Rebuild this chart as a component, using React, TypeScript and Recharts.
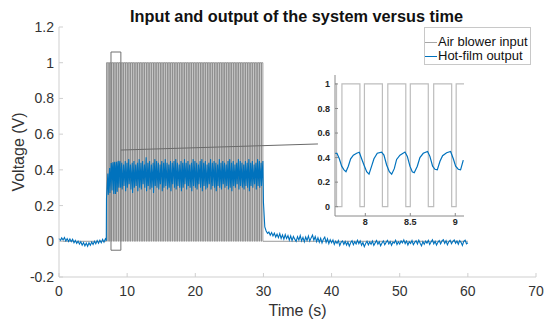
import React from 'react'
import { LineChart, Line, XAxis, YAxis, ReferenceArea, ReferenceLine } from 'recharts'

const FONT = '"Liberation Sans", Arial, Helvetica, sans-serif'
const BLUE = '#0072BD'
const PULSE_GRAY = '#828282'
const AXIS_GRAY = '#cfcfcf'
const TEXT = '#333333'

const xTicks = [0, 10, 20, 30, 40, 50, 60, 70]
const yTicks = [-0.2, 0, 0.2, 0.4, 0.6, 0.8, 1, 1.2]
const zoomXTicks = [8, 8.5, 9]
const zoomYTicks = [0, 0.2, 0.4, 0.6, 0.8, 1]

// air blower input: switch-on / switch-off instants (s)
const pulseRise = [
  6.97, 7.23, 7.48, 7.74, 7.99, 8.25, 8.5, 8.76, 9.01, 9.27,
  9.53, 9.78, 10.04, 10.29, 10.55, 10.8, 11.06, 11.32, 11.57, 11.83,
  12.08, 12.34, 12.59, 12.85, 13.1, 13.36, 13.62, 13.87, 14.13, 14.38,
  14.64, 14.89, 15.15, 15.4, 15.66, 15.92, 16.17, 16.43, 16.68, 16.94,
  17.19, 17.45, 17.71, 17.96, 18.22, 18.47, 18.73, 18.98, 19.24, 19.49,
  19.75, 20.01, 20.26, 20.52, 20.77, 21.03, 21.28, 21.54, 21.79, 22.05,
  22.31, 22.56, 22.82, 23.07, 23.33, 23.58, 23.84, 24.1, 24.35, 24.61,
  24.86, 25.12, 25.37, 25.63, 25.88, 26.14, 26.4, 26.65, 26.91, 27.16,
  27.42, 27.67, 27.93, 28.18, 28.44, 28.7, 28.95, 29.21, 29.46, 29.72,
]
const pulseFall = [
  7.17, 7.43, 7.68, 7.94, 8.19, 8.45, 8.7, 8.96, 9.21, 9.47,
  9.73, 9.98, 10.24, 10.49, 10.75, 11.0, 11.26, 11.52, 11.77, 12.03,
  12.28, 12.54, 12.79, 13.05, 13.3, 13.56, 13.82, 14.07, 14.33, 14.58,
  14.84, 15.09, 15.35, 15.6, 15.86, 16.12, 16.37, 16.63, 16.88, 17.14,
  17.39, 17.65, 17.91, 18.16, 18.42, 18.67, 18.93, 19.18, 19.44, 19.69,
  19.95, 20.21, 20.46, 20.72, 20.97, 21.23, 21.48, 21.74, 21.99, 22.25,
  22.51, 22.76, 23.02, 23.27, 23.53, 23.78, 24.04, 24.3, 24.55, 24.81,
  25.06, 25.32, 25.57, 25.83, 26.08, 26.34, 26.6, 26.85, 27.11, 27.36,
  27.62, 27.87, 28.13, 28.38, 28.64, 28.9, 29.15, 29.41, 29.66, 29.92,
]
const inputEnd = 60

// hot-film output before the blower starts, every 0.2 s from 0 s
const outputBefore = [
  0.016, 0.004, 0.019, 0.007, 0.021, 0.002, 0.015, -0.001, 0.013, -0.002,
  0.011, -0.008, 0.005, -0.011, 0.001, -0.016, -0.003, -0.022, -0.007, -0.026,
  -0.01, -0.028, -0.008, -0.022, -0.004, -0.018, 0.0, -0.014, 0.004, -0.011,
  0.006, -0.008, 0.011, -0.005, 0.014,
]
const onsetTime = 6.94
const onsetValue = 0.003

// lowest value after each switch-on, highest before each switch-off
const cycleTrough = [
  0.24, 0.26, 0.27, 0.285, 0.265, 0.265, 0.277, 0.3, 0.3, 0.29,
  0.31, 0.28, 0.3, 0.32, 0.29, 0.27, 0.3, 0.31, 0.28, 0.3,
  0.29, 0.32, 0.3, 0.28, 0.31, 0.29, 0.3, 0.27, 0.31, 0.3,
  0.29, 0.32, 0.28, 0.3, 0.31, 0.29, 0.3, 0.28, 0.32, 0.3,
  0.29, 0.31, 0.3, 0.28, 0.3, 0.32, 0.29, 0.31, 0.3, 0.28,
  0.31, 0.3, 0.29, 0.32, 0.3, 0.28, 0.31, 0.29, 0.3, 0.32,
  0.29, 0.31, 0.3, 0.28, 0.31, 0.3, 0.29, 0.32, 0.3, 0.31,
  0.29, 0.3, 0.28, 0.31, 0.3, 0.32, 0.29, 0.31, 0.3, 0.29,
  0.31, 0.3, 0.28, 0.31, 0.3, 0.32, 0.29, 0.31, 0.3, 0.31,
]
const cyclePeak = [
  0.38, 0.41, 0.435, 0.443, 0.445, 0.445, 0.45, 0.45, 0.44, 0.43,
  0.45, 0.44, 0.46, 0.43, 0.44, 0.45, 0.43, 0.44, 0.46, 0.44,
  0.45, 0.43, 0.47, 0.44, 0.45, 0.43, 0.44, 0.46, 0.45, 0.44,
  0.43, 0.45, 0.44, 0.46, 0.44, 0.43, 0.45, 0.44, 0.45, 0.46,
  0.44, 0.43, 0.45, 0.44, 0.46, 0.44, 0.45, 0.43, 0.44, 0.46,
  0.45, 0.44, 0.43, 0.45, 0.46, 0.44, 0.45, 0.43, 0.44, 0.46,
  0.44, 0.45, 0.44, 0.43, 0.46, 0.44, 0.45, 0.44, 0.43, 0.45,
  0.46, 0.44, 0.45, 0.43, 0.44, 0.46, 0.45, 0.44, 0.43, 0.45,
  0.44, 0.46, 0.44, 0.45, 0.43, 0.44, 0.46, 0.45, 0.44, 0.45,
]

// hot-film output after the blower stops, every 0.2 s from 30 s
const outputAfter = [
  0.22, 0.08, 0.058, 0.044, 0.052, 0.034, 0.049, 0.03, 0.045, 0.024,
  0.04, 0.02, 0.043, 0.016, 0.036, 0.012, 0.038, 0.015, 0.032, 0.006,
  0.03, 0.004, 0.027, 0.012, -0.001, 0.026, 0.007, 0.032, 0.002, 0.022,
  -0.003, 0.024, 0.004, 0.03, 0.001, 0.019, 0.035, 0.006, 0.026, -0.002,
  0.02, -0.005, 0.017, -0.009, 0.012, 0.024, -0.006, 0.014, -0.013, 0.009,
  -0.008, 0.007, -0.018, 0.0, -0.012, 0.004, -0.024, -0.006, 0.002, -0.017,
  -0.001, -0.021, -0.004, -0.027, -0.008, 0.003, -0.019, -0.002, -0.015, 0.006,
  -0.013, 0.002, -0.022, -0.007, -0.03, -0.012, 0.0, -0.02, -0.004, -0.017,
  0.001, -0.023, -0.009, 0.004, -0.016, -0.003, -0.025, -0.01, 0.002, -0.019,
  -0.006, 0.005, -0.015, -0.001, -0.022, -0.005, -0.011, 0.006, -0.018, -0.003,
  -0.016, 0.002, -0.009, 0.008, -0.013, 0.001, -0.021, -0.003, -0.012, 0.004,
  -0.019, -0.006, 0.003, -0.015, 0.006, -0.011, -0.026, -0.002, -0.016, 0.001,
  -0.01, 0.005, -0.018, -0.004, 0.008, -0.014, 0.0, -0.021, -0.006, 0.004,
  -0.015, 0.002, 0.009, -0.012, 0.003, -0.02, -0.003, 0.006, -0.014, 0.0,
  0.007, -0.011, 0.002, -0.017, 0.004, -0.006, -0.023, 0.0, 0.006, -0.014,
  -0.008,
]
const sampleStep = 0.2
const afterStart = 30

// hot-film output read from the magnified window
const zoomTimes = [
  7.655, 7.685, 7.711, 7.737, 7.763, 7.785, 7.811, 7.837, 7.867, 7.904,
  7.933, 7.959, 7.985, 8.015, 8.041, 8.07, 8.096, 8.133, 8.181, 8.207,
  8.237, 8.267, 8.293, 8.322, 8.348, 8.385, 8.441, 8.467, 8.496, 8.522,
  8.544, 8.578, 8.607, 8.644, 8.692, 8.718, 8.748, 8.774, 8.8, 8.83,
  8.859, 8.904, 8.948, 8.978, 9.004, 9.033, 9.059, 9.089,
]
const zoomValues = [
  0.435, 0.435, 0.39, 0.33, 0.3, 0.285, 0.33, 0.39, 0.42, 0.435,
  0.443, 0.39, 0.34, 0.285, 0.265, 0.33, 0.39, 0.435, 0.445, 0.42,
  0.34, 0.285, 0.265, 0.31, 0.385, 0.42, 0.445, 0.41, 0.33, 0.285,
  0.277, 0.33, 0.4, 0.435, 0.45, 0.41, 0.33, 0.305, 0.3, 0.37,
  0.415, 0.44, 0.45, 0.39, 0.33, 0.305, 0.3, 0.38,
]

// magnified region and the leader line to the inset
const zoomWindowX = [7.663, 9.097]
const zoomWindowY = [-0.076, 1.073]
const zoomBoxX = [7.63, 9.08]
const zoomBoxY = [-0.05, 1.06]
const leaderFrom = { x: 9.08, y: 0.511 }
const leaderTo = { x: 38, y: 0.545 }

type Pt = { t: number; v: number }

const inputData: Pt[] = [{ t: 0, v: 0 }]
pulseRise.forEach((r, i) => {
  inputData.push({ t: r, v: 0 }, { t: r, v: 1 }, { t: pulseFall[i], v: 1 }, { t: pulseFall[i], v: 0 })
})
inputData.push({ t: inputEnd, v: 0 })

const zStart = zoomTimes[0]
const zEnd = zoomTimes[zoomTimes.length - 1]
const outputData: Pt[] = []
outputBefore.forEach((v, i) => outputData.push({ t: +(i * sampleStep).toFixed(2), v }))
outputData.push({ t: onsetTime, v: onsetValue })
pulseRise.forEach((r, i) => {
  if (r < zStart || r > zEnd) outputData.push({ t: r, v: cycleTrough[i] })
  const f = pulseFall[i]
  if (f < zStart || f > zEnd) outputData.push({ t: f, v: cyclePeak[i] })
})
zoomTimes.forEach((t, i) => outputData.push({ t, v: zoomValues[i] }))
outputAfter.forEach((v, i) => outputData.push({ t: +(afterStart + i * sampleStep).toFixed(2), v }))
outputData.sort((a, b) => a.t - b.t)

const zoomOutput: Pt[] = zoomTimes.map((t, i) => ({ t, v: zoomValues[i] }))

function Inset() {
  const frame = '#8a8a8a'
  const tickStyle = { fill: '#262626', fontSize: 9, fontWeight: 700, fontFamily: FONT }
  return (
    <div style={{ position: 'absolute', left: 300, top: 70 }}>
      <LineChart width={170} height={170} margin={{ top: 5, right: 6, left: 0, bottom: 0 }}>
        <XAxis
          type="number"
          dataKey="t"
          domain={zoomWindowX}
          allowDataOverflow
          ticks={zoomXTicks}
          tickFormatter={(v: number) => String(v)}
          height={24}
          tickSize={-3}
          tickMargin={6}
          tick={tickStyle}
          axisLine={{ stroke: frame }}
          tickLine={{ stroke: frame }}
        />
        <YAxis
          type="number"
          domain={zoomWindowY}
          allowDataOverflow
          ticks={zoomYTicks}
          tickFormatter={(v: number) => String(v)}
          width={35}
          tickSize={-3}
          tickMargin={8}
          tick={tickStyle}
          axisLine={{ stroke: frame }}
          tickLine={{ stroke: frame }}
        />
        <XAxis xAxisId="top" orientation="top" type="number" domain={[0, 1]} height={0} tick={false} tickLine={false} axisLine={{ stroke: frame }} />
        <YAxis yAxisId="right" orientation="right" type="number" domain={[0, 1]} width={0} tick={false} tickLine={false} axisLine={{ stroke: frame }} />
        <Line data={inputData} dataKey="v" type="linear" stroke="#bdbdbd" strokeWidth={1.2} dot={false} isAnimationActive={false} />
        <Line data={zoomOutput} dataKey="v" type="linear" stroke={BLUE} strokeWidth={1.2} dot={false} isAnimationActive={false} />
      </LineChart>
    </div>
  )
}

export default function App() {
  const tickStyle = { fill: TEXT, fontSize: 14, fontFamily: FONT }
  return (
    <div style={{ position: 'absolute', left: 0, top: 0, width: 544, height: 322, background: '#fff', fontFamily: FONT }}>
      <div style={{ position: 'absolute', left: 0, top: 8, width: 593, textAlign: 'center', fontSize: 16.3, lineHeight: '16px', fontWeight: 700, color: '#111' }}>
        Input and output of the system versus time
      </div>
      <LineChart width={544} height={322} margin={{ top: 27, right: 8, left: 9, bottom: 0 }}>
        <XAxis
          type="number"
          dataKey="t"
          domain={[0, 70]}
          ticks={xTicks}
          height={45}
          tickSize={-4}
          tickMargin={13}
          tick={tickStyle}
          axisLine={{ stroke: AXIS_GRAY }}
          tickLine={{ stroke: AXIS_GRAY }}
          label={{ value: 'Time (s)', position: 'insideBottom', offset: 6, style: { fill: TEXT, fontSize: 16, fontFamily: FONT } }}
        />
        <YAxis
          type="number"
          domain={[-0.2, 1.2]}
          ticks={yTicks}
          tickFormatter={(v: number) => String(v)}
          width={50}
          tickSize={-4}
          tickMargin={9}
          tick={tickStyle}
          axisLine={{ stroke: AXIS_GRAY }}
          tickLine={{ stroke: AXIS_GRAY }}
          label={{ value: 'Voltage (V)', angle: -90, position: 'insideLeft', offset: 9, style: { textAnchor: 'middle', fill: TEXT, fontSize: 16, fontFamily: FONT } }}
        />
        <Line data={inputData} dataKey="v" type="linear" stroke={PULSE_GRAY} strokeWidth={0.8} dot={false} isAnimationActive={false} />
        <ReferenceArea x1={zoomBoxX[0]} x2={zoomBoxX[1]} y1={zoomBoxY[0]} y2={zoomBoxY[1]} fill="none" stroke="#707070" strokeWidth={1} />
        <Line data={outputData} dataKey="v" type="linear" stroke={BLUE} strokeWidth={1.1} dot={false} isAnimationActive={false} />
        <ReferenceLine segment={[leaderFrom, leaderTo]} stroke="#6a6a6a" strokeWidth={1} />
      </LineChart>
      <Inset />
      <div style={{ position: 'absolute', left: 424, top: 27, width: 107, height: 38, border: '1px solid #c8c8c8', background: '#fff', fontSize: 13, color: '#111', paddingTop: 7, boxSizing: 'border-box' }}>
        {[
          { name: 'Air blower input', color: '#a6a6a6' },
          { name: 'Hot-film output', color: BLUE },
        ].map((item) => (
          <div key={item.name} style={{ display: 'flex', alignItems: 'center', height: 14, lineHeight: '14px', whiteSpace: 'nowrap' }}>
            <span style={{ display: 'inline-block', width: 12, height: 0, borderTop: `1px solid ${item.color}`, marginRight: 1 }} />
            {item.name}
          </div>
        ))}
      </div>
    </div>
  )
}
